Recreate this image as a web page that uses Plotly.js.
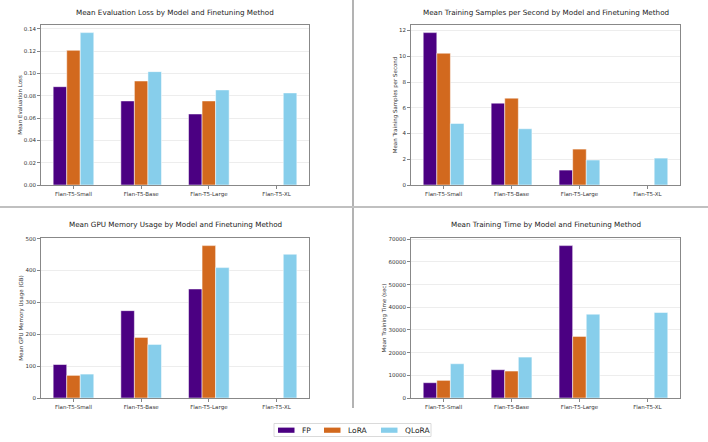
<!DOCTYPE html>
<html>
<head>
<meta charset="utf-8">
<script src="https://cdn.plot.ly/plotly-3.0.1.min.js"></script>
<style>html,body{margin:0;padding:0;background:#fff;}#chart{width:708px;height:442px;}</style>
</head>
<body>
<div id="chart"></div>
<script>
const models = ["Flan-T5-Small", "Flan-T5-Base", "Flan-T5-Large", "Flan-T5-XL"];
const methods = ["FP", "LoRA", "QLoRA"];
const colors = ["#4B0082", "#D2691E", "#87CEEB"];

const evalLossFP    = [0.0882, 0.0754, 0.0637, null];
const evalLossLoRA  = [0.1208, 0.0933, 0.0754, null];
const evalLossQLoRA = [0.1367, 0.1017, 0.0853, 0.0826];

const samplesFP    = [11.84, 6.36, 1.16, null];
const samplesLoRA  = [10.24, 6.75, 2.79, null];
const samplesQLoRA = [4.78, 4.37, 1.94, 2.09];

const gpuFP    = [105, 274, 342, null];
const gpuLoRA  = [71, 190, 478, null];
const gpuQLoRA = [75, 168, 409, 451];

const timeFP    = [6750, 12470, 67210, null];
const timeLoRA  = [7780, 11890, 27150, null];
const timeQLoRA = [15120, 18050, 36980, 37720];

const panels = [
  {title: "Mean Evaluation Loss by Model and Finetuning Method", ytitle: "Mean Evaluation Loss",
   data: [evalLossFP, evalLossLoRA, evalLossQLoRA], tickvals: [0,0.02,0.04,0.06,0.08,0.10,0.12,0.14], fmt: ".2f"},
  {title: "Mean Training Samples per Second by Model and Finetuning Method", ytitle: "Mean Training Samples per Second",
   data: [samplesFP, samplesLoRA, samplesQLoRA], tickvals: [0,2,4,6,8,10,12], fmt: "d"},
  {title: "Mean GPU Memory Usage by Model and Finetuning Method", ytitle: "Mean GPU Memory Usage (GB)",
   data: [gpuFP, gpuLoRA, gpuQLoRA], tickvals: [0,100,200,300,400,500], fmt: "d"},
  {title: "Mean Training Time by Model and Finetuning Method", ytitle: "Mean Training Time (sec)",
   data: [timeFP, timeLoRA, timeQLoRA], tickvals: [0,10000,20000,30000,40000,50000,60000,70000], fmt: "d"}
];

const W = 708, H = 442;
const boxes = [
  {x0: 41, x1: 309, y0: 25, y1: 185},
  {x0: 411, x1: 680, y0: 25, y1: 185},
  {x0: 41, x1: 309, y0: 238, y1: 398},
  {x0: 411, x1: 680, y0: 238, y1: 398}
];

const FONT = "DejaVu Sans, sans-serif";
const traces = [];
const layout = {
  width: W, height: H,
  margin: {l: 0, r: 0, t: 0, b: 0},
  paper_bgcolor: "#fff", plot_bgcolor: "#fff",
  barmode: "group", bargap: 0.4, bargroupgap: 0,
  font: {family: FONT, color: "#222"},
  showlegend: false,
  annotations: [], shapes: []
};

panels.forEach((p, i) => {
  const ax = i === 0 ? "" : String(i + 1);
  const b = boxes[i];
  p.data.forEach((vals, k) => {
    traces.push({
      type: "bar", x: models, y: vals, name: methods[k],
      marker: {color: colors[k], line: {color: "#ffffff", width: 0.5}},
      xaxis: "x" + ax, yaxis: "y" + ax,
      showlegend: false, legendgroup: methods[k], hoverinfo: "x+y+name"
    });
  });
  const maxv = Math.max(...p.data.flat().filter(v => v !== null));
  layout["xaxis" + ax] = {
    domain: [b.x0 / W, b.x1 / W], anchor: "y" + ax,
    range: [-0.48, 3.48], type: "category",
    showline: true, mirror: true, linecolor: "#888", linewidth: 1,
    ticks: "outside", ticklen: 3, tickcolor: "#666", tickwidth: 0.8,
    tickfont: {size: 5.5, family: FONT, color: "#333"}, showgrid: false, fixedrange: true
  };
  layout["yaxis" + ax] = {
    domain: [1 - b.y1 / H, 1 - b.y0 / H], anchor: "x" + ax,
    range: [0, maxv * 1.05], tickvals: p.tickvals, tickformat: p.fmt,
    showline: true, mirror: true, linecolor: "#888", linewidth: 1,
    ticks: "outside", ticklen: 3, tickcolor: "#666", tickwidth: 0.8,
    tickfont: {size: 5.5, family: FONT, color: "#333"},
    showgrid: true, gridcolor: "#e8e8e8", gridwidth: 0.8, zeroline: false,
    title: {text: p.ytitle, font: {size: 5.5, family: FONT, color: "#333"}, standoff: 0},
    fixedrange: true
  };
  layout.annotations.push({
    text: p.title, xref: "paper", yref: "paper",
    x: (b.x0 + b.x1) / 2 / W, y: 1 - (i < 2 ? 12 : 224) / H,
    xanchor: "center", yanchor: "middle", showarrow: false,
    font: {size: 7.2, family: FONT, color: "#222"}
  });
});

// Dividers between panels
layout.shapes.push({type: "line", xref: "paper", yref: "paper", x0: 353/W, x1: 353/W, y0: 1, y1: 1 - 408/H,
  line: {color: "#9a9a9a", width: 1.5}});
layout.shapes.push({type: "line", xref: "paper", yref: "paper", x0: 0, x1: 1, y0: 1 - 207/H, y1: 1 - 207/H,
  line: {color: "#c0c0c0", width: 2}});

// Shared legend (figure-level), drawn as box + swatches + labels
const legBox = {x0: 274, x1: 431, y0: 423.5, y1: 436.5};
const legSwatchX = [278, 324, 381];
const legSwatchW = 16.5;
const legTextX = [300, 345.5, 403];
const legY = 430.2;
layout.shapes.push({type: "rect", xref: "paper", yref: "paper",
  x0: legBox.x0 / W, x1: legBox.x1 / W, y0: 1 - legBox.y1 / H, y1: 1 - legBox.y0 / H,
  line: {color: "#d0d0d0", width: 0.8}, fillcolor: "#ffffff"});
methods.forEach((m, k) => {
  layout.shapes.push({type: "rect", xref: "paper", yref: "paper",
    x0: legSwatchX[k] / W, x1: (legSwatchX[k] + legSwatchW) / W,
    y0: 1 - (legY + 2.6) / H, y1: 1 - (legY - 2.6) / H,
    line: {width: 0}, fillcolor: colors[k]});
  layout.annotations.push({text: m, xref: "paper", yref: "paper",
    x: legTextX[k] / W, y: 1 - legY / H, xanchor: "left", yanchor: "middle",
    showarrow: false, font: {size: 7.5, family: FONT, color: "#222"}});
});

Plotly.newPlot("chart", traces, layout, {displayModeBar: false, staticPlot: true});
</script>
</body>
</html>
